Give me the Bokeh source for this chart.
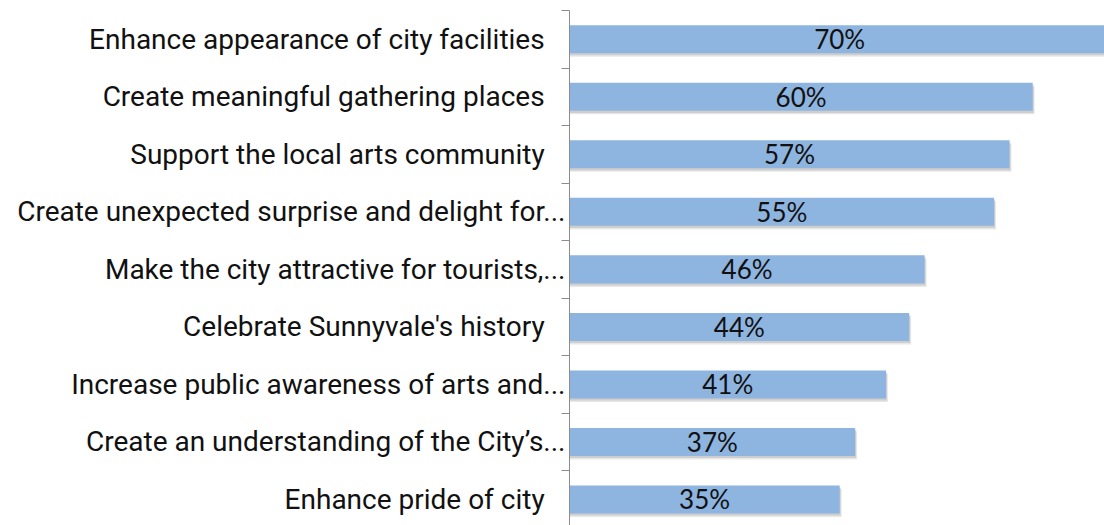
from bokeh.plotting import figure
from bokeh.models import Range1d, FixedTicker
from bokeh.core.properties import value
from bokeh.embed import file_html
from bokeh.resources import INLINE

categories = [
    "Enhance appearance of city facilities",
    "Create meaningful gathering places",
    "Support the local arts community",
    "Create unexpected surprise and delight for...",
    "Make the city attractive for tourists,...",
    "Celebrate Sunnyvale's history",
    "Increase public awareness of arts and...",
    "Create an understanding of the City\u2019s...",
    "Enhance pride of city",
]
values = [70, 60, 57, 55, 46, 44, 41, 37, 35]
truncated = [False, False, False, True, True, False, True, True, False]

n = len(categories)
ys = [n - 1 - i for i in range(n)]
labels = [f"{v}%" for v in values]
pad = "\u00a0\u00a0\u00a0"
tick_text = {y: (c if t else c + pad) for y, c, t in zip(ys, categories, truncated)}

p = figure(width=1104, height=525, output_backend="svg", toolbar_location=None,
           x_range=Range1d(0, 69.3), y_range=Range1d(-0.452, n - 0.5),
           x_axis_location=None, min_border_left=569, min_border_right=0,
           min_border_top=10, min_border_bottom=0)
p.outline_line_color = None
p.grid.visible = False
p.background_fill_color = "white"
p.border_fill_color = "white"

# soft shadow
p.hbar(y=[y - 0.06 for y in ys], left=0, right=[v + 0.25 for v in values], height=0.49,
       fill_color="#7f7f7f", fill_alpha=0.18, line_color=None)
p.hbar(y=[y - 0.035 for y in ys], left=0, right=[v + 0.12 for v in values], height=0.49,
       fill_color="#7f7f7f", fill_alpha=0.25, line_color=None)
p.hbar(y=ys, left=0, right=values, height=0.487, fill_color="#8EB4E0", line_color=None)

p.text(x=[v / 2 for v in values], y=ys, text=labels, text_align="center",
       text_baseline="middle", text_font=value("Lato"), text_font_size="26px",
       text_font_style="normal", text_color="#111111")

ax = p.yaxis[0]
ax.ticker = FixedTicker(ticks=ys, minor_ticks=[y - 0.5 for y in ys] + [n - 0.5])
ax.major_label_overrides = tick_text
ax.major_tick_out = 0
ax.major_tick_in = 0
ax.minor_tick_out = 8
ax.minor_tick_in = 0
ax.minor_tick_line_color = "#8c8c8c"
ax.axis_line_color = "#8c8c8c"
ax.major_label_standoff = -4
ax.major_label_text_font = "Roboto"
ax.major_label_text_font_size = "28px"
ax.major_label_text_color = "#111111"

open("out.html", "w").write(file_html(p, INLINE))
